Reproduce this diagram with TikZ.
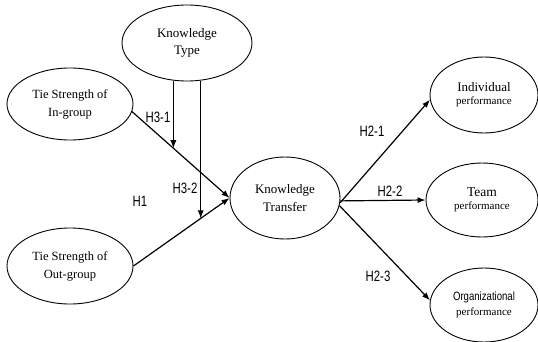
\documentclass[tikz,border=0pt]{standalone}
\usepackage{fontspec}
\usepackage{graphicx}
\setmainfont{Liberation Serif}
\setsansfont{Liberation Sans}
\usetikzlibrary{shapes.geometric,arrows.meta}
\newcommand\hlab[1]{\scalebox{0.76}[1]{\fontsize{15}{15}\selectfont\sffamily #1}}
\newcommand\orgtxt[1]{\scalebox{0.8}[1]{\fontsize{12}{12}\selectfont\sffamily #1}}
\begin{document}
\begin{tikzpicture}[x=1pt,y=-1pt,
  ell/.style={ellipse,draw,line width=0.9pt,inner sep=0pt,align=center},
  conn/.style={line width=1.2pt,-{Latex[length=8pt,width=6pt]}},
  vconn/.style={line width=1pt,-{Latex[length=8pt,width=6pt]}},
  hl/.style={inner sep=0pt}]
\useasboundingbox (0,0) rectangle (538,342);
\node[ell,font=\fontsize{13}{17}\selectfont,minimum width=130pt,minimum height=76pt] (kty) at (187,43) {Knowledge\\Type};
\node[ell,minimum width=126pt,minimum height=72pt,font=\fontsize{12.5}{18}\selectfont] (ig) at (70,104) {Tie Strength of\\In-group};
\node[ell,minimum width=126pt,minimum height=76pt,font=\fontsize{12.5}{18}\selectfont] (og) at (70,266) {Tie Strength of\\Out-group};
\node[ell,minimum width=110pt,minimum height=82pt,font=\fontsize{13}{18}\selectfont] (kt) at (285,198) {Knowledge\\Transfer};
\node[ell,minimum width=108pt,minimum height=76pt] (ind) at (484,95) {{\fontsize{13}{13}\selectfont Individual}\\[1pt]{\fontsize{11}{11}\selectfont performance}};
\node[ell,minimum width=112pt,minimum height=74pt] (team) at (482,200) {{\fontsize{13.5}{13}\selectfont Team}\\[1pt]{\fontsize{11}{11}\selectfont performance}};
\node[ell,minimum width=108pt,minimum height=74pt] (org) at (484,305) {\orgtxt{Organizational}\\[3pt]{\fontsize{11}{11}\selectfont performance}};
% moderators
\draw[conn] (ig.-7) -- (kt.west) coordinate[pos=0.424] (m1);
\draw[conn] (og.east) -- (kt.west) coordinate[pos=0.70] (m2);
\draw[vconn] (kty.south -| m1) -- (m1);
\draw[vconn] (kty.south -| m2) -- (m2);
% outcomes
\draw[conn] (kt.-5) -- (ind.185);
\draw[conn] (kt.-3) -- (team.west);
\draw[conn] (kt.-8) -- (org.175);
% labels
\node[hl] (l31) at (158,117) {\hlab{H3-1}};
\node[hl] (l32) at (185,188) {\hlab{H3-2}};
\node[hl] (l1) at (140,201) {\hlab{H1}};
\node[hl] (l21) at (372,131) {\hlab{H2-1}};
\node[hl] (l22) at (390,191) {\hlab{H2-2}};
\node[hl] (l23) at (378,276) {\hlab{H2-3}};
\end{tikzpicture}
\end{document}
